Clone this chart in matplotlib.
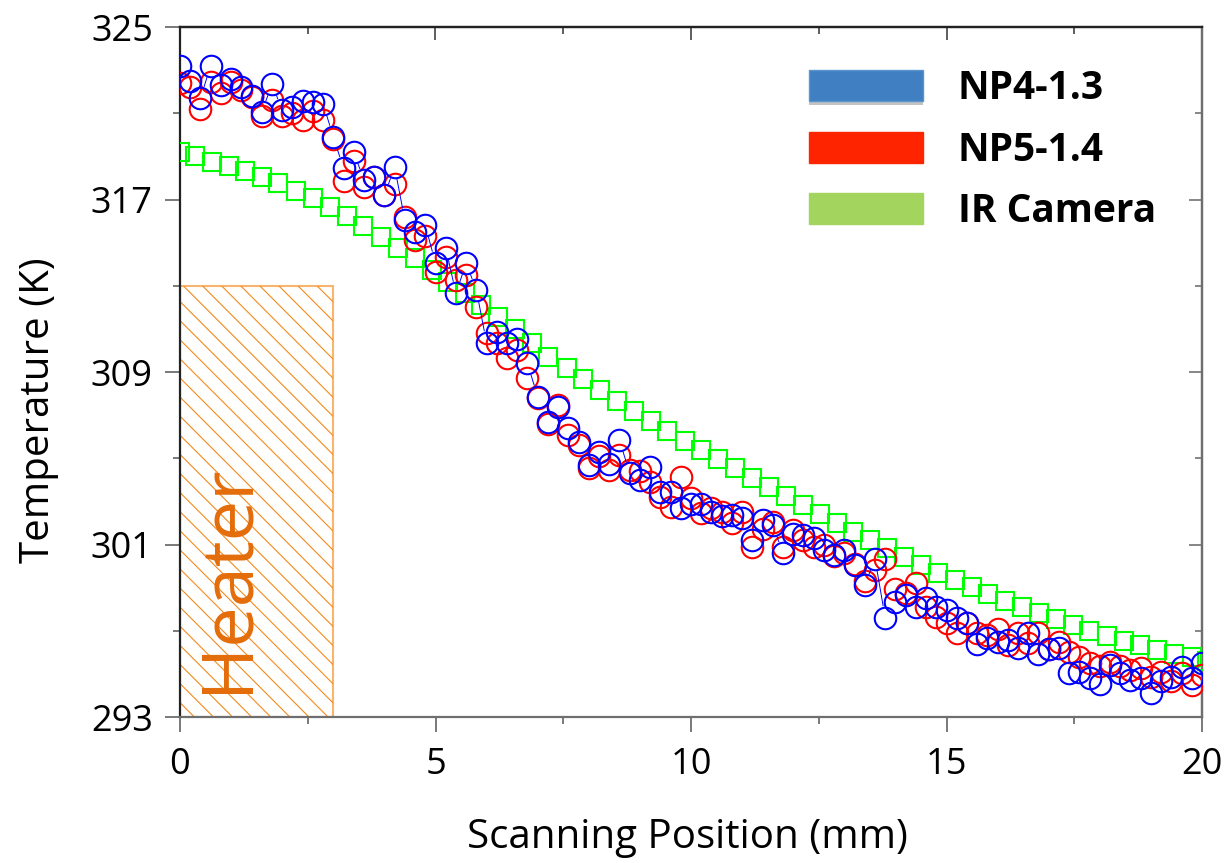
import numpy as np
import matplotlib
matplotlib.use("Agg")
import matplotlib.pyplot as plt
import matplotlib.patheffects as pe
from matplotlib.patches import Patch, Rectangle
from matplotlib.collections import LineCollection
from matplotlib.ticker import FixedLocator
from matplotlib.transforms import IdentityTransform

# ---------------------------------------------------------------- data
# scanning positions (mm) of the nanoparticle thermometry points
scan_x = [
    0.0, 0.2, 0.4, 0.6, 0.8, 1.0, 1.2, 1.4, 1.6, 1.8,
    2.0, 2.2, 2.4, 2.6, 2.8, 3.0, 3.2, 3.4, 3.6, 3.8,
    4.0, 4.2, 4.4, 4.6, 4.8, 5.0, 5.2, 5.4, 5.6, 5.8,
    6.0, 6.2, 6.4, 6.6, 6.8, 7.0, 7.2, 7.4, 7.6, 7.8,
    8.0, 8.2, 8.4, 8.6, 8.8, 9.0, 9.2, 9.4, 9.6, 9.8,
    10.0, 10.2, 10.4, 10.6, 10.8, 11.0, 11.2, 11.4, 11.6, 11.8,
    12.0, 12.2, 12.4, 12.6, 12.8, 13.0, 13.2, 13.4, 13.6, 13.8,
    14.0, 14.2, 14.4, 14.6, 14.8, 15.0, 15.2, 15.4, 15.6, 15.8,
    16.0, 16.2, 16.4, 16.6, 16.8, 17.0, 17.2, 17.4, 17.6, 17.8,
    18.0, 18.2, 18.4, 18.6, 18.8, 19.0, 19.2, 19.4, 19.6, 19.8,
    20.0,
]

# NP4-1.3 temperatures (K)
np4_temp = [
    323.2, 322.5, 321.7, 323.2, 322.3, 322.6, 322.2, 321.8, 321.05, 322.35,
    321.15, 321.3, 321.55, 321.5, 321.45, 319.9, 318.45, 319.2, 317.9, 318.05,
    317.2, 318.5, 316.05, 315.5, 315.8, 314.05, 314.75, 312.65, 314.05, 312.8,
    310.35, 310.85, 310.35, 310.55, 309.4, 307.85, 306.7, 307.4, 306.4, 305.75,
    304.7, 305.3, 304.75, 305.85, 304.3, 304.0, 304.6, 303.45, 303.45, 302.7,
    302.9, 302.9, 302.5, 302.3, 302.35, 302.25, 301.2, 302.15, 301.9, 300.6,
    301.5, 301.45, 301.3, 300.75, 300.5, 300.75, 300.05, 299.1, 300.35, 297.6,
    298.35, 298.65, 298.1, 298.5, 298.1, 297.95, 297.6, 297.35, 296.4, 296.65,
    296.5, 296.55, 296.2, 296.9, 295.9, 296.15, 296.2, 295.05, 295.1, 294.8,
    294.55, 295.4, 295.05, 294.7, 294.8, 294.1, 294.65, 294.85, 295.3, 294.8,
    295.5,
]

# NP5-1.4 temperatures (K)
np5_temp = [
    322.4, 322.2, 321.2, 322.45, 321.95, 322.45, 322.1, 321.75, 320.85, 321.6,
    320.85, 321.0, 320.7, 321.1, 320.7, 319.8, 317.85, 318.8, 317.6, 318.05,
    317.2, 317.7, 316.2, 315.1, 315.3, 313.65, 314.35, 313.25, 313.5, 312.0,
    310.8, 310.35, 309.65, 310.0, 308.7, 307.8, 306.6, 307.45, 306.1, 305.6,
    304.55, 305.1, 304.45, 305.15, 304.45, 304.4, 303.9, 303.2, 302.75, 304.15,
    303.15, 302.45, 302.7, 302.5, 302.0, 302.5, 300.9, 301.7, 302.05, 300.9,
    301.65, 301.2, 300.9, 301.0, 300.45, 300.6, 300.1, 299.3, 299.8, 300.35,
    298.95, 298.75, 299.2, 298.1, 297.65, 297.35, 296.9, 297.35, 296.9, 296.8,
    297.1, 296.35, 296.9, 296.45, 296.9, 296.15, 296.5, 296.0, 295.8, 295.5,
    295.35, 295.55, 295.35, 295.2, 295.25, 294.85, 295.1, 294.65, 295.05, 294.5,
    294.95,
]

# IR camera reference profile
ir_x = [
    0.00, 0.29, 0.62, 0.95, 1.27, 1.60, 1.92, 2.27, 2.60, 2.94,
    3.26, 3.59, 3.93, 4.26, 4.59, 4.93, 5.25, 5.58, 5.90, 6.23,
    6.56, 6.88, 7.21, 7.57, 7.89, 8.22, 8.55, 8.88, 9.21, 9.54,
    9.88, 10.20, 10.53, 10.86, 11.19, 11.52, 11.86, 12.19, 12.52, 12.85,
    13.18, 13.51, 13.83, 14.16, 14.50, 14.83, 15.16, 15.49, 15.82, 16.15,
    16.48, 16.81, 17.14, 17.47, 17.79, 18.14, 18.47, 18.79, 19.12, 19.45,
    19.80, 20.10,
]
ir_temp = [
    319.2, 319.0, 318.76, 318.57, 318.32, 318.06, 317.78, 317.41, 317.06, 316.67,
    316.24, 315.79, 315.28, 314.77, 314.27, 313.73, 313.19, 312.65, 312.11, 311.57,
    310.98, 310.35, 309.71, 309.17, 308.66, 308.17, 307.67, 307.18, 306.71, 306.25,
    305.82, 305.38, 304.95, 304.54, 304.10, 303.68, 303.25, 302.83, 302.42, 302.00,
    301.59, 301.21, 300.82, 300.44, 300.05, 299.69, 299.35, 299.03, 298.72, 298.39,
    298.09, 297.81, 297.53, 297.25, 296.99, 296.76, 296.53, 296.33, 296.12, 295.94,
    295.77, 295.60,
]

series_labels = ["NP4-1.3", "NP5-1.4", "IR Camera"]
heater_x = [0.0, 3.0]
heater_top = 313.0
x_major = [0, 5, 10, 15, 20]
x_minor = [2.5, 7.5, 12.5, 17.5]
y_major = [293, 301, 309, 317, 325]
y_minor = [297, 305, 313, 321]

# ---------------------------------------------------------------- style
plt.rcParams["font.family"] = ["Open Sans", "DejaVu Sans"]

BLUE = "#0000ff"
RED = "#ff0000"
GREEN = "#00ff00"
DPI = 100

fig = plt.figure(figsize=(12.29, 8.63), dpi=DPI)
ax = fig.add_axes([180 / 1229, 1 - 717 / 863, 1022 / 1229, 690 / 863])
ax.set_xlim(0, 20)
ax.set_ylim(293, 325)

# heater block: light outline with thin diagonal hatching clipped inside
heater = Rectangle((heater_x[0], y_major[0]), heater_x[1] - heater_x[0],
                   heater_top - y_major[0], facecolor="none",
                   edgecolor="#f9b46e", lw=1.5, zorder=1)
ax.add_patch(heater)
(hx0, hy0) = ax.transData.transform((heater_x[0], y_major[0]))
(hx1, hy1) = ax.transData.transform((heater_x[1], heater_top))
span = hy1 - hy0
hatch = [[(c, hy1), (c + span, hy0)]
         for c in np.arange(hx0 + 3.3 - 19.1 * 40, hx1 + 20, 19.1)]
hatch_lc = LineCollection(hatch, colors="#f28a1c", linewidths=0.8,
                          transform=IdentityTransform(), zorder=1)
ax.add_collection(hatch_lc, autolim=False)
hatch_lc.set_clip_path(heater)

ax.text(np.mean(heater_x) - 0.57, 299.45, "Heater", rotation=90,
        ha="center", va="center", fontsize=52, color="#e46c0a", zorder=2)

# measurement series
MS_C, MS_S, MEW = 15.5, 13.0, 1.5
ax.plot(ir_x, ir_temp, ls="none", marker="s", ms=MS_S, mfc="none",
        mec=GREEN, mew=MEW, zorder=3)
ax.plot(scan_x, np5_temp, ls="none", marker="o", ms=MS_C, mfc="none",
        mec=RED, mew=MEW, zorder=4)
ax.plot(scan_x, np4_temp, ls="none", marker="o", ms=MS_C, mfc="none",
        mec=BLUE, mew=MEW, zorder=5)

# thin connector for NP4-1.3 that stops at each marker rim
pts = ax.transData.transform(np.column_stack([scan_x, np4_temp]))
rim = (MS_C + MEW) / 2 * DPI / 72
segs = []
for p, q in zip(pts[:-1], pts[1:]):
    d = q - p
    L = np.hypot(*d)
    if L > 2 * rim + 4:
        u = d / L
        a = ax.transData.inverted().transform(p + u * rim)
        b = ax.transData.inverted().transform(q - u * rim)
        segs.append([a, b])
ax.add_collection(LineCollection(segs, colors=BLUE, linewidths=0.7, zorder=5),
                  autolim=False)

# ---------------------------------------------------------------- axes
for side, col in (("left", "#222222"), ("top", "#222222"),
                  ("bottom", "#6e6e6e"), ("right", "#6e6e6e")):
    ax.spines[side].set_color(col)
    ax.spines[side].set_linewidth(1.6)

ax.set_xticks(x_major)
ax.xaxis.set_minor_locator(FixedLocator(x_minor))
ax.set_yticks(y_major)
ax.yaxis.set_minor_locator(FixedLocator(y_minor))
ax.tick_params(which="major", direction="out", length=10.5, width=1.1,
               color="#555555", labelsize=26, top=False, right=False)
ax.tick_params(which="minor", direction="out", length=5, width=1.1,
               color="#555555", top=False, right=False)
ax.tick_params(axis="x", pad=11)
ax.tick_params(axis="y", pad=9)

sec_top = ax.secondary_xaxis("top")
sec_top.set_xticks(x_major)
sec_top.xaxis.set_minor_locator(FixedLocator(x_minor))
sec_top.tick_params(which="major", direction="in", length=9.5, width=1.1,
                    color="#333333", labeltop=False)
sec_top.tick_params(which="minor", direction="in", length=5, width=1.1,
                    color="#333333")
sec_top.spines["top"].set_color("#222222")
sec_top.spines["top"].set_linewidth(1.6)

sec_right = ax.secondary_yaxis("right")
sec_right.set_yticks(y_major)
sec_right.yaxis.set_minor_locator(FixedLocator(y_minor))
sec_right.tick_params(which="major", direction="in", length=9.5, width=1.1,
                      color="#666666", labelright=False)
sec_right.tick_params(which="minor", direction="in", length=5, width=1.1,
                      color="#666666")
sec_right.spines["right"].set_color("#6e6e6e")
sec_right.spines["right"].set_linewidth(1.6)

ax.set_xlabel("Scanning Position (mm)", fontsize=29)
ax.set_ylabel("Temperature (K)", fontsize=29)
ax.xaxis.set_label_coords(0.497, -0.145)
ax.yaxis.set_label_coords(-0.118, 0.445)

# ---------------------------------------------------------------- legend
handles = [
    Patch(facecolor="#3f7fc2", edgecolor="#5b95d0", lw=1.0,
          path_effects=[pe.SimplePatchShadow(offset=(0, -3), alpha=0.35,
                                             shadow_rgbFace="#555555"),
                        pe.Normal()]),
    Patch(facecolor="#ff2400", edgecolor="#ff2400", lw=1.0),
    Patch(facecolor="#a2d45e", edgecolor="#a2d45e", lw=1.0),
]
leg = ax.legend(handles, series_labels, loc="upper left",
                bbox_to_anchor=(809 / 1229, 1 - 69 / 863),
                bbox_transform=fig.transFigure, frameon=False,
                prop={"family": ["Open Sans", "DejaVu Sans"],
                      "weight": "bold", "size": 28},
                handlelength=2.93, handleheight=0.85, handletextpad=0.9,
                labelspacing=0.58, borderpad=0, borderaxespad=0)

fig.savefig("out.png", dpi=DPI, facecolor="white")
